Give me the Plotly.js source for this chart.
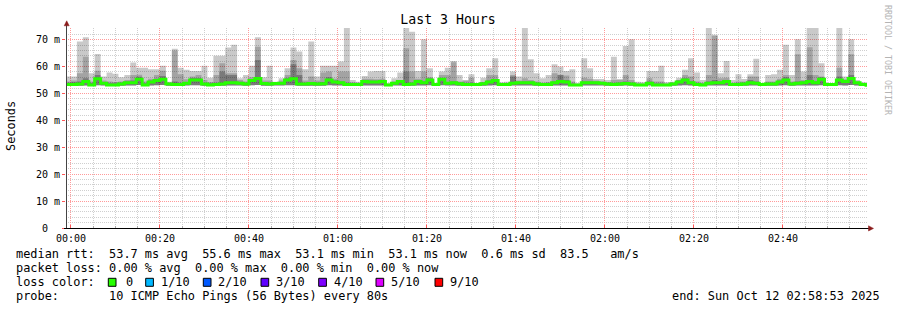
<!DOCTYPE html>
<html>
<head>
<meta charset="utf-8">
<script src="https://cdn.plot.ly/plotly-3.0.1.min.js"></script>
<style>
html,body{margin:0;padding:0;background:#fff;}
#chart{width:897px;height:310px;}
</style>
</head>
<body>
<div id="chart"></div>
<script>
// ---- DATA (ms), one entry per 80 s RRD step, first step starts 2025-10-11 23:58:40 ----
const stepStart = "2025-10-11T23:58:40Z";
const stepSeconds = 80;

// highest ping of the 10 (outer, lightest smoke)
const pingMax = [56.3,56.3,69.3,70.9,57.5,64.7,56.3,57.8,57.3,56.0,56.9,61.5,59.6,59.6,59.0,59.0,60.3,54.4,66.6,59.6,58.8,58.4,58.4,60.3,55.9,64.0,64.0,67.1,68.1,55.7,56.9,60.3,70.9,56.0,60.3,54.4,55.7,59.4,67.1,65.6,59.0,69.3,56.3,60.3,60.3,60.3,61.9,74.5,55.0,54.4,56.5,58.2,58.4,58.4,53.8,
55.7,57.8,74.5,73.0,58.4,70.2,59.4,53.8,58.2,59.6,62.1,56.9,55.0,57.2,53.8,55.9,59.4,63.1,54.2,54.4,58.2,56.3,74.5,62.7,57.5,55.7,56.9,
60.9,60.0,58.4,59.0,53.8,63.1,59.4,55.4,55.4,55.0,63.7,55.4,67.7,70.2,54.4,54.2,58.4,58.4,60.3,54.2,54.4,55.9,58.8,63.1,57.8,55.0,
74.5,71.8,57.5,62.1,55.0,57.2,55.4,57.2,62.9,53.8,56.9,57.2,58.8,68.1,56.9,70.2,58.2,74.5,74.5,61.2,53.8,53.8,74.5,56.3,70.2,55.0,54.2,53.8];

// upper edge of the medium smoke band
const pingMid = [54.5,54.8,57.5,63.7,54.5,58.5,54.8,54.5,54.3,54.5,55.0,56.9,57.0,54.5,55.5,56.9,58.5,54.1,66.0,57.2,55.3,56.3,56.9,55.0,54.3,56.9,61.2,57.5,57.5,55.0,54.5,56.0,67.4,54.8,54.8,54.2,54.8,56.9,62.5,59.4,54.8,56.3,54.8,57.8,58.2,55.5,58.2,58.2,54.2,54.0,55.5,55.5,55.3,55.5,53.6,
54.5,55.0,66.8,58.2,55.5,58.2,56.0,53.6,56.9,56.9,61.6,54.5,54.7,55.9,53.6,54.3,56.9,56.9,53.8,53.8,56.9,54.8,55.7,55.0,54.5,54.0,54.3,
57.5,57.0,56.7,54.5,53.6,55.9,55.5,54.8,54.6,54.3,55.0,55.0,56.9,55.0,53.8,53.7,55.7,54.5,54.5,53.7,54.0,55.0,56.9,56.3,54.5,54.0,
56.9,71.5,55.7,55.9,54.0,54.5,54.5,56.3,56.3,53.6,54.5,54.5,55.5,56.9,54.5,64.6,55.0,67.2,56.9,56.3,53.6,53.6,59.6,55.3,64.6,54.6,53.8,53.6];

// upper edge of the dark smoke band
const pingDark = [54.0,54.2,54.5,55.7,53.9,56.9,54.3,53.8,53.8,54.0,54.5,54.8,56.2,53.8,54.8,55.5,56.5,53.9,54.5,54.0,54.3,55.8,55.8,54.0,53.8,54.0,58.2,56.9,56.9,54.4,54.0,55.3,62.5,54.2,54.0,54.0,54.3,55.7,60.9,56.9,54.0,54.3,54.0,54.3,56.0,54.8,54.5,54.0,53.8,53.8,55.0,54.8,54.8,55.0,53.4,
54.2,54.8,58.2,54.0,55.0,54.5,55.7,53.5,55.7,54.3,54.5,54.0,53.8,53.8,53.5,54.0,54.8,55.3,53.6,53.6,56.3,54.4,54.5,54.5,54.0,53.7,53.7,
54.5,56.9,55.0,53.7,53.4,54.5,54.5,54.4,54.2,54.0,53.8,54.0,54.5,54.0,53.5,53.5,54.5,53.7,53.7,53.5,53.8,54.8,55.7,54.5,53.8,53.6,
54.5,55.0,54.5,55.0,53.7,53.8,54.0,55.0,54.5,53.5,54.0,54.0,54.8,56.0,54.0,54.5,54.5,56.9,54.5,56.0,53.5,53.5,56.3,55.0,56.9,54.3,53.5,53.5];

// median rtt
const median = [53.3,53.3,53.5,54.5,53.2,55.5,53.8,53.2,53.2,53.5,54.0,54.0,55.3,53.2,54.3,54.8,55.3,53.5,53.3,53.3,53.8,55.0,55.0,53.5,53.2,53.3,53.5,54.0,54.0,53.8,53.5,54.8,55.6,53.7,53.5,53.7,53.8,55.0,55.5,53.5,53.5,53.7,53.5,53.6,55.0,54.3,54.0,53.3,53.3,53.3,54.5,54.3,54.3,54.5,53.2,
53.8,54.5,53.3,53.5,54.5,54.0,55.0,53.3,55.3,53.8,54.0,53.6,53.3,53.3,53.3,53.6,54.3,54.8,53.3,53.3,53.8,54.0,54.0,54.0,53.5,53.3,53.3,
54.0,54.5,54.3,53.2,53.2,54.0,54.0,54.0,53.8,53.5,53.3,53.5,53.7,53.5,53.2,53.2,53.8,53.2,53.2,53.2,53.5,54.3,55.0,54.0,53.3,53.2,
53.8,54.0,54.0,54.5,53.3,53.3,53.5,54.0,53.8,53.3,53.5,53.5,54.3,55.0,53.5,53.8,54.0,54.5,54.0,55.3,53.3,53.3,55.0,54.5,55.6,54.0,53.3,53.1];

// lowest ping of the 10
const pingMin = [52.9,52.9,52.9,53.0,52.8,53.1,53.0,52.8,52.8,52.9,53.0,53.0,53.2,52.8,53.0,53.1,53.2,52.9,52.9,52.9,53.0,53.1,53.1,52.9,52.8,52.9,52.9,53.0,53.0,53.0,52.9,53.1,53.2,52.9,52.9,53.0,53.0,53.1,53.1,52.9,52.9,52.9,52.9,52.9,53.1,53.0,53.0,52.9,52.9,52.9,53.0,53.0,53.0,53.0,52.8,
53.0,53.0,52.9,52.9,53.0,53.0,53.1,52.9,53.1,53.0,53.0,52.9,52.9,52.9,52.9,52.9,53.0,53.1,52.9,52.9,53.0,53.0,53.0,53.0,52.9,52.9,52.9,
53.0,53.0,53.0,52.8,52.8,53.0,53.0,53.0,53.0,52.9,52.9,52.9,53.0,52.9,52.8,52.8,53.0,52.8,52.8,52.8,52.9,53.0,53.1,53.0,52.9,52.8,
53.0,53.0,53.0,53.0,52.9,52.9,52.9,53.0,53.0,52.9,52.9,52.9,53.0,53.1,52.9,53.0,53.0,53.0,53.0,53.1,52.9,52.9,53.1,53.0,53.2,53.0,52.9,52.8];

const yTickVals = [0,10,20,30,40,50,60,70];
const yTickText = ["0","10 m","20 m","30 m","40 m","50 m","60 m","70 m"];

const lossLabels = ["0","1/10","2/10","3/10","4/10","5/10","9/10"];
const lossColors = ["#26ff00","#00b8ff","#0059ff","#5e00ff","#7e00ff","#dd00ff","#ff0000"];

const legendLines = [
  "median rtt:  53.7 ms avg  55.6 ms max  53.1 ms min  53.1 ms now  0.6 ms sd  83.5   am/s",
  "packet loss: 0.00 % avg  0.00 % max  0.00 % min  0.00 % now",
  "probe:       10 ICMP Echo Pings (56 Bytes) every 80s"
];
const endText = "end: Sun Oct 12 02:58:53 2025";

// ---- build ----
const t0 = Date.parse(stepStart);
const stepMs = stepSeconds * 1000;
const fmt = t => new Date(t).toISOString().replace('T', ' ').replace('Z', '');
// step edges: start of every step plus the end of the last one
const edges = median.map((_, i) => t0 + i * stepMs);
edges.push(t0 + median.length * stepMs);
const edgeX = edges.map(fmt);
const stepY = arr => arr.concat([arr[arr.length - 1]]);

// translucent smoke so the dotted grid shows through, as in rrdtool
function bandPair(top, color) {
  return [
    {type: 'scatter', mode: 'lines', x: edgeX, y: stepY(pingMin),
     line: {width: 0, shape: 'hv'}, hoverinfo: 'skip', showlegend: false},
    {type: 'scatter', mode: 'lines', x: edgeX, y: stepY(top), fill: 'tonexty', fillcolor: color,
     line: {width: 0, shape: 'hv'}, hoverinfo: 'skip', showlegend: false}
  ];
}

const traces = [].concat(
  bandPair(pingMax, 'rgba(0,0,0,0.21)'),
  bandPair(pingMid, 'rgba(0,0,0,0.19)'),
  bandPair(pingDark, 'rgba(0,0,0,0.25)'),
  [{type: 'scatter', mode: 'lines', x: edgeX, y: stepY(median),
    line: {color: '#26ff00', width: 3, shape: 'hv'}, hoverinfo: 'skip', showlegend: false}]
);

// pixel helpers for the plot box (l=66, r=867, t=28, b=228)
const PL = 66, PR = 867, PT = 28, PB = 228;
const px = x => (x - PL) / (PR - PL);
const py = y => (PB - y) / (PB - PT);

const MONO = '"DejaVu Sans Mono", "Liberation Mono", monospace';
const textFont = {family: MONO, size: 11.9, color: '#000'};
const nb = s => s.replace(/ /g, '\u00A0');

const annotations = [];
const lineY1 = [254.3, 268.3, 296.0];
legendLines.forEach((s, i) => annotations.push({
  xref: 'paper', yref: 'paper', x: px(15.4), y: py(lineY1[i]), xanchor: 'left', yanchor: 'middle',
  text: nb(s), showarrow: false, font: textFont, borderpad: 0
}));
annotations.push({xref: 'paper', yref: 'paper', x: px(15.4), y: py(282.3), xanchor: 'left', yanchor: 'middle',
  text: nb('loss color:'), showarrow: false, font: textFont, borderpad: 0});
const lossLabelX = [124.8, 160.0, 217.3, 275.3, 332.6, 390.0, 449.0];
const lossBoxX = [108.3, 145.7, 203.3, 261.0, 318.7, 376.0, 435.0];
lossLabels.forEach((s, i) => annotations.push({
  xref: 'paper', yref: 'paper', x: px(lossLabelX[i]), y: py(282.3), xanchor: 'left', yanchor: 'middle',
  text: s, showarrow: false, font: textFont, borderpad: 0
}));
annotations.push({xref: 'paper', yref: 'paper', x: px(881), y: py(296.0), xanchor: 'right', yanchor: 'middle',
  text: nb(endText), showarrow: false, font: textFont, borderpad: 0});
annotations.push({xref: 'paper', yref: 'paper', x: px(11), y: py(126), xanchor: 'center', yanchor: 'middle',
  text: 'Seconds', textangle: -90, showarrow: false, font: textFont, borderpad: 0});
annotations.push({xref: 'paper', yref: 'paper', x: px(888), y: py(60), xanchor: 'center', yanchor: 'middle',
  text: nb('RRDTOOL / TOBI OETIKER'), textangle: 90, showarrow: false,
  font: {family: MONO, size: 8.3, color: '#b4b4b4'}, borderpad: 0});

const shapes = [];
lossColors.forEach((c, i) => shapes.push({
  type: 'rect', xref: 'paper', yref: 'paper',
  x0: px(lossBoxX[i]), x1: px(lossBoxX[i] + 7.7), y0: py(278.3), y1: py(286.3),
  fillcolor: c, line: {color: '#000', width: 1}
}));
// axis extensions and arrows
shapes.push({type: 'line', xref: 'paper', yref: 'paper', x0: px(66.5), x1: px(66.5), y0: py(228), y1: py(24),
  line: {color: '#444', width: 1}});
shapes.push({type: 'path', xref: 'paper', yref: 'paper',
  path: `M ${px(64.2)},${py(25.8)} L ${px(69.2)},${py(25.8)} L ${px(66.7)},${py(20.8)} Z`,
  fillcolor: '#8b1c1c', line: {color: '#8b1c1c', width: 0.5}});
shapes.push({type: 'line', xref: 'paper', yref: 'paper', x0: px(64), x1: px(869), y0: py(228.5), y1: py(228.5),
  line: {color: '#000', width: 1}});
shapes.push({type: 'path', xref: 'paper', yref: 'paper',
  path: `M ${px(868.5)},${py(225.8)} L ${px(868.5)},${py(231)} L ${px(873.5)},${py(228.4)} Z`,
  fillcolor: '#8b1c1c', line: {color: '#8b1c1c', width: 0.5}});

const layout = {
  width: 897, height: 310,
  margin: {l: PL, r: 897 - PR, t: PT, b: 310 - PB, pad: 0},
  paper_bgcolor: '#ffffff', plot_bgcolor: '#ffffff',
  showlegend: false,
  title: {text: 'Last 3 Hours', font: {family: MONO, size: 13.2, color: '#000'},
          xref: 'container', yref: 'container', x: 448 / 897, xanchor: 'center',
          y: 1 - 19 / 310, yanchor: 'middle'},
  xaxis: {
    type: 'date',
    range: ['2025-10-11 23:58:53', '2025-10-12 02:58:53'],
    tick0: '2025-10-12 00:00:00', dtick: 20 * 60 * 1000, tickformat: '%H:%M',
    showgrid: true, gridcolor: '#ff9a9a', griddash: '1px,1px', gridwidth: 1,
    minor: {tick0: '2025-10-12 00:00:00', dtick: 5 * 60 * 1000, showgrid: true,
            gridcolor: '#cfcfcf', griddash: '1px,1px', gridwidth: 1,
            ticks: 'inside', ticklen: 2, tickcolor: '#aaaaaa'},
    ticks: 'inside', ticklen: 3, tickcolor: '#ff5555',
    ticklabelstandoff: 3,
    showline: false, zeroline: false,
    tickfont: {family: MONO, size: 10, color: '#000'},
    fixedrange: true
  },
  yaxis: {
    range: [0, 74.35],
    tickvals: yTickVals, ticktext: yTickText.map(s => s.indexOf(' ') < 0 ? s + '\u00A0\u00A0' : nb(s)),
    showgrid: true, gridcolor: '#ff9a9a', griddash: '1px,1px', gridwidth: 1,
    minor: {dtick: 2, tick0: 0, showgrid: true, gridcolor: '#cfcfcf', griddash: '1px,1px', gridwidth: 1},
    ticks: 'outside', ticklen: 3, tickcolor: '#ff5555',
    showline: false, zeroline: false,
    tickfont: {family: MONO, size: 10, color: '#000'},
    fixedrange: true
  },
  annotations: annotations,
  shapes: shapes
};

Plotly.newPlot('chart', traces, layout, {staticPlot: true, displayModeBar: false});
</script>
</body>
</html>
